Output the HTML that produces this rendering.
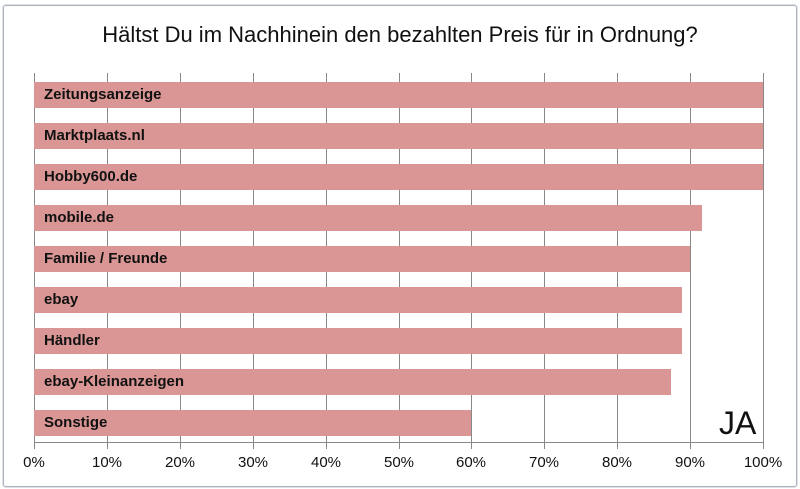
<!DOCTYPE html>
<html><head><style>
body{margin:0;width:800px;height:489px;background:#fff;overflow:hidden;position:relative;font-family:"Liberation Sans",sans-serif}
.frame{position:absolute;left:3px;top:5px;width:792px;height:480px;border:1px solid #a9b0b8;border-radius:3px;box-shadow:0 0 0 1px #dfe3e8}
.t{position:absolute;left:0;width:800px;top:22px;text-align:center;font-size:22px;color:#111}
.g{position:absolute;top:73px;width:1px;height:376px;background:#888}
.ax{position:absolute;left:34px;top:442px;width:730px;height:1px;background:#888}
.b{position:absolute;left:34px;height:26px;background:#d99694;font-weight:bold;font-size:15px;line-height:26px;color:#111;padding-left:10px;box-sizing:border-box}
.l{position:absolute;top:454px;font-size:15px;width:60px;text-align:center;color:#111}
</style></head><body>
<div class="frame"></div>
<div class="t">Hältst Du im Nachhinein den bezahlten Preis für in Ordnung?</div>
<div class="g" style="left:34px"></div><div class="g" style="left:107px"></div><div class="g" style="left:180px"></div><div class="g" style="left:253px"></div><div class="g" style="left:326px"></div><div class="g" style="left:399px"></div><div class="g" style="left:471px"></div><div class="g" style="left:544px"></div><div class="g" style="left:617px"></div><div class="g" style="left:690px"></div><div class="g" style="left:763px"></div>
<div class="ax"></div>
<div class="b" style="top:82px;width:729px">Zeitungsanzeige</div>
<div class="b" style="top:123px;width:729px">Marktplaats.nl</div>
<div class="b" style="top:164px;width:729px">Hobby600.de</div>
<div class="b" style="top:205px;width:668px">mobile.de</div>
<div class="b" style="top:246px;width:656px">Familie / Freunde</div>
<div class="b" style="top:287px;width:648px">ebay</div>
<div class="b" style="top:328px;width:648px">Händler</div>
<div class="b" style="top:369px;width:637px">ebay-Kleinanzeigen</div>
<div class="b" style="top:410px;width:437px">Sonstige</div>
<div style="position:absolute;left:719px;top:405px;font-size:32px;color:#111">JA</div>
<div class="l" style="left:4px">0%</div><div class="l" style="left:77px">10%</div><div class="l" style="left:150px">20%</div><div class="l" style="left:223px">30%</div><div class="l" style="left:296px">40%</div><div class="l" style="left:369px">50%</div><div class="l" style="left:441px">60%</div><div class="l" style="left:514px">70%</div><div class="l" style="left:587px">80%</div><div class="l" style="left:660px">90%</div><div class="l" style="left:733px">100%</div>
</body></html>
